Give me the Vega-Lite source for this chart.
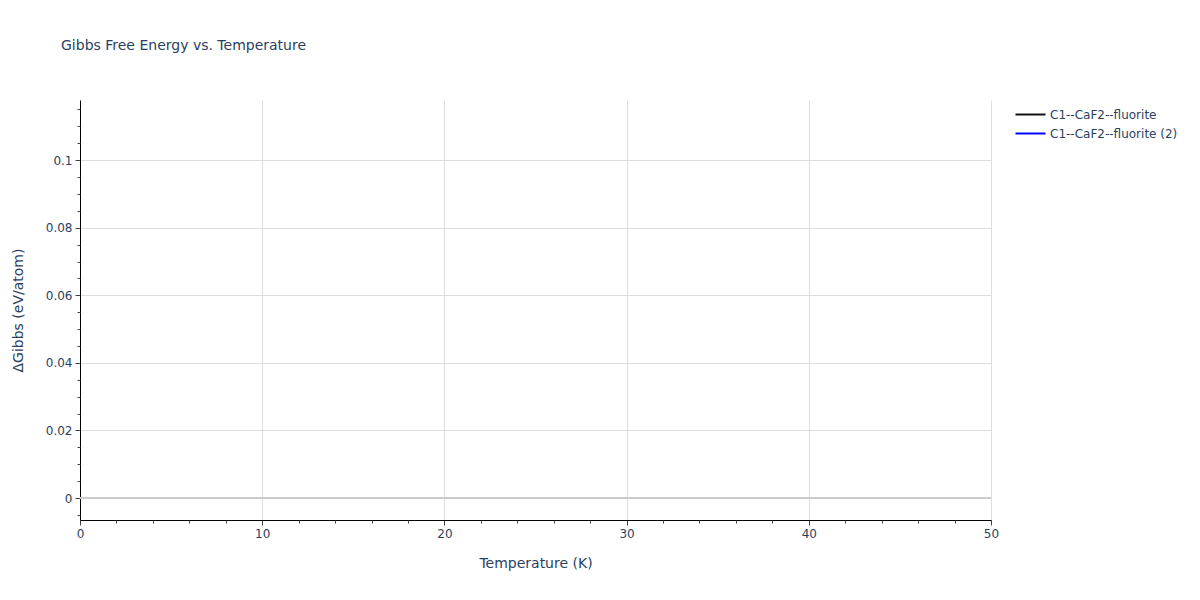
{
  "$schema": "https://vega.github.io/schema/vega-lite/v6.json",
  "description": "Gibbs free energy vs temperature, two series with no plottable values.",
  "autosize": {"type": "none"},
  "padding": {"left": 80, "top": 100, "right": 209, "bottom": 80},
  "width": 911,
  "height": 420,
  "background": "white",
  "title": {
    "text": "Gibbs Free Energy vs. Temperature",
    "anchor": "start",
    "frame": "group",
    "dx": -19,
    "offset": 47,
    "font": "DejaVu Sans",
    "fontSize": 14,
    "fontWeight": "normal",
    "color": "#2a3f5f"
  },
  "data": {
    "values": [
      {"series": "C1--CaF2--fluorite", "T": 0, "dG": null},
      {"series": "C1--CaF2--fluorite", "T": 50, "dG": null},
      {"series": "C1--CaF2--fluorite (2)", "T": 0, "dG": null},
      {"series": "C1--CaF2--fluorite (2)", "T": 50, "dG": null}
    ]
  },
  "layer": [
    {
      "mark": {"type": "line", "strokeWidth": 2},
      "encoding": {
        "x": {
          "field": "T",
          "type": "quantitative",
          "scale": {"domain": [0, 50], "nice": false, "zero": false},
          "axis": {
            "orient": "bottom",
            "title": "Temperature (K)",
            "values": [0, 10, 20, 30, 40, 50],
            "grid": true,
            "tickSize": 5,
            "labelPadding": 3,
            "labelFlush": false,
            "titlePadding": 17
          }
        },
        "y": {
          "field": "dG",
          "type": "quantitative",
          "scale": {"domain": [-0.0065, 0.1178], "nice": false, "zero": false},
          "axis": {
            "orient": "left",
            "title": "ΔGibbs (eV/atom)",
            "values": [0, 0.02, 0.04, 0.06, 0.08, 0.1],
            "format": "~g",
            "grid": true,
            "tickSize": 5,
            "labelPadding": 3,
            "labelFlush": false,
            "titlePadding": 20
          }
        },
        "color": {
          "field": "series",
          "type": "nominal",
          "scale": {
            "domain": ["C1--CaF2--fluorite", "C1--CaF2--fluorite (2)"],
            "range": ["#111111", "#0000ff"]
          },
          "legend": {
            "title": null,
            "orient": "none",
            "legendX": 942,
            "legendY": 6,
            "symbolType": "M-2,0H2",
            "symbolSize": 225,
            "symbolStrokeWidth": 2,
            "labelFont": "DejaVu Sans",
            "labelFontSize": 12,
            "labelColor": "#2a3f5f",
            "labelOffset": 11,
            "rowPadding": 4
          }
        }
      }
    },
    {
      "data": {"values": [{"level": 0}]},
      "mark": {"type": "rule", "color": "#cccccc", "strokeWidth": 2},
      "encoding": {
        "y": {
          "field": "level",
          "type": "quantitative",
          "axis": {
            "orient": "left",
            "title": null,
            "values": [-0.005, 0.005, 0.01, 0.015, 0.025, 0.03, 0.035, 0.045, 0.05, 0.055, 0.065, 0.07, 0.075, 0.085, 0.09, 0.095, 0.105, 0.11, 0.115],
            "labels": false,
            "grid": false,
            "domain": false,
            "tickSize": 3
          }
        }
      }
    },
    {
      "mark": {"type": "line", "opacity": 0},
      "encoding": {
        "x": {
          "field": "T",
          "type": "quantitative",
          "axis": {
            "orient": "bottom",
            "title": null,
            "values": [2, 4, 6, 8, 12, 14, 16, 18, 22, 24, 26, 28, 32, 34, 36, 38, 42, 44, 46, 48],
            "labels": false,
            "grid": false,
            "domain": false,
            "tickSize": 3
          }
        },
        "y": {"field": "dG", "type": "quantitative", "axis": null}
      }
    }
  ],
  "resolve": {"axis": {"x": "independent", "y": "independent"}},
  "config": {
    "view": {"stroke": null},
    "axis": {
      "domainColor": "#000000",
      "domainWidth": 1,
      "tickColor": "#444444",
      "gridColor": "#dedede",
      "gridWidth": 1,
      "labelFont": "DejaVu Sans",
      "labelFontSize": 12,
      "labelColor": "#2a3f5f",
      "titleFont": "DejaVu Sans",
      "titleFontSize": 14,
      "titleFontWeight": "normal",
      "titleColor": "#2a3f5f"
    }
  }
}
